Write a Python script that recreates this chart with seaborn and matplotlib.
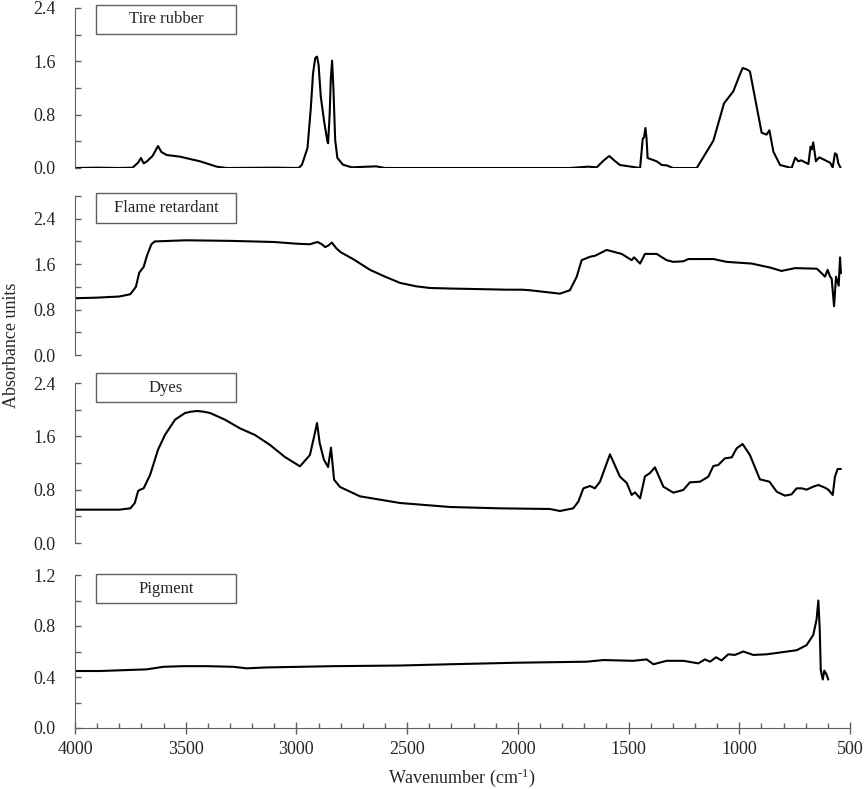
import matplotlib
matplotlib.use("Agg")
import matplotlib.pyplot as plt
import matplotlib.patches as mpatches
from matplotlib.ticker import MultipleLocator
import numpy as np
import pandas as pd
import seaborn as sns

# spectra (wavenumber cm-1, absorbance)
tire_wn = [4000, 3900, 3800, 3740, 3715, 3702, 3690, 3675, 3650, 3625, 3610, 3586, 3526, 3435,
           3360, 3315, 3100, 2990, 2975, 2950, 2935, 2925, 2915, 2907, 2900, 2890, 2875,
           2860, 2857, 2850, 2845, 2839, 2833, 2825, 2815, 2790, 2750, 2640, 2600, 1800, 1765,
           1682, 1644, 1610, 1587, 1560, 1539, 1448, 1436, 1430, 1424, 1419, 1414, 1373, 1350,
           1328, 1299, 1192, 1117, 1069, 1027, 1000, 985, 967, 952, 899, 877, 864, 846, 816, 764,
           747, 733, 721, 688, 678, 672, 666, 654, 639, 590, 578, 568, 560, 553, 542]
tire_abs = [0.0, 0.005, 0.0, 0.005, 0.08, 0.15, 0.07, 0.1, 0.18, 0.33, 0.24, 0.195, 0.17, 0.1,
            0.02, 0.0, 0.005, 0.0, 0.05, 0.3, 0.9, 1.42, 1.65, 1.67, 1.55, 1.07, 0.7,
            0.4, 0.37, 0.8, 1.32, 1.61, 1.2, 0.42, 0.15, 0.05, 0.01, 0.025, 0.0, 0.0, 0.0,
            0.02, 0.01, 0.12, 0.18, 0.1, 0.045, 0.0, 0.44, 0.46, 0.6, 0.45, 0.15, 0.1, 0.045,
            0.04, 0.0, 0.0, 0.41, 0.97, 1.15, 1.38, 1.5, 1.48, 1.45, 0.53, 0.5, 0.565, 0.245, 0.045,
            0.0, 0.155, 0.1, 0.115, 0.06, 0.32, 0.28, 0.385, 0.1, 0.16, 0.08, 0.01, 0.22, 0.2,
            0.07, 0.0]

flame_wn = [4000, 3900, 3800, 3750, 3725, 3710, 3700, 3690, 3675, 3655, 3640, 3500, 3300, 3100,
            3000, 2940, 2905, 2885, 2870, 2855, 2840, 2820, 2800, 2740, 2668, 2600, 2532, 2460,
            2397, 2300, 2171, 2050, 1980, 1945, 1877, 1810, 1765, 1734, 1712, 1674, 1650, 1599,
            1531, 1486, 1475, 1448, 1426, 1373, 1328, 1298, 1253, 1230, 1117, 1057, 944, 861,
            809, 748, 650, 628, 613, 601, 590, 583, 572, 563, 551, 545, 541]
flame_abs = [1.0, 1.01, 1.03, 1.07, 1.2, 1.45, 1.5, 1.55, 1.75, 1.95, 2.0, 2.02, 2.01, 1.99,
             1.96, 1.95, 1.99, 1.95, 1.9, 1.93, 1.98, 1.88, 1.81, 1.68, 1.5, 1.38, 1.27, 1.21,
             1.18, 1.17, 1.16, 1.15, 1.15, 1.14, 1.11, 1.08, 1.14, 1.38, 1.67, 1.73, 1.75, 1.85,
             1.78, 1.67, 1.72, 1.61, 1.78, 1.78, 1.67, 1.64, 1.65, 1.69, 1.69, 1.64, 1.61, 1.54,
             1.48, 1.53, 1.52, 1.44, 1.38, 1.5, 1.38, 1.35, 0.86, 1.38, 1.22, 1.72, 1.44]

dyes_wn = [4000, 3800, 3750, 3730, 3715, 3705, 3690, 3661, 3625, 3594, 3548, 3503, 3475, 3449,
           3420, 3390, 3323, 3255, 3187, 3119, 3052, 2984, 2939, 2920, 2907, 2895, 2876, 2857,
           2844, 2830, 2803, 2713, 2532, 2306, 2081, 1855, 1810, 1750, 1727, 1704, 1674, 1652,
           1629, 1584, 1539, 1508, 1486, 1471, 1448, 1426, 1403, 1381, 1343, 1298, 1253, 1223,
           1177, 1140, 1117, 1095, 1065, 1034, 1012, 985, 952, 907, 864, 831, 794, 764, 741, 718,
           696, 666, 643, 613, 598, 578, 568, 556, 541]
dyes_abs = [0.5, 0.5, 0.52, 0.6, 0.78, 0.8, 0.82, 1.02, 1.4, 1.62, 1.85, 1.95, 1.97, 1.98,
            1.97, 1.95, 1.85, 1.72, 1.62, 1.47, 1.29, 1.15, 1.32, 1.6, 1.8, 1.5, 1.25, 1.14,
            1.43, 0.95, 0.84, 0.7, 0.6, 0.54, 0.52, 0.51, 0.48, 0.52, 0.62, 0.82, 0.855, 0.82,
            0.92, 1.33, 0.995, 0.9, 0.72, 0.76, 0.67, 1.0, 1.05, 1.135, 0.845, 0.755, 0.795, 0.91,
            0.92, 0.995, 1.155, 1.17, 1.27, 1.285, 1.42, 1.485, 1.32, 0.955, 0.92, 0.77, 0.71,
            0.73, 0.82, 0.82, 0.8, 0.845, 0.87, 0.83, 0.8, 0.72, 0.995, 1.11, 1.11]

pigment_wn = [4000, 3887, 3676, 3601, 3511, 3405, 3285, 3225, 3134, 2984, 2833, 2532, 2306,
              2005, 1689, 1614, 1479, 1418, 1388, 1328, 1253, 1185, 1155, 1132, 1105, 1080,
              1050, 1020, 982, 937, 876, 741, 696, 666, 651, 643, 637, 632, 623, 616, 606, 598]
pigment_abs = [0.447, 0.447, 0.46, 0.48, 0.485, 0.485, 0.48, 0.468, 0.475, 0.48, 0.485, 0.49, 0.5,
               0.512, 0.52, 0.533, 0.527, 0.538, 0.5, 0.527, 0.527, 0.507, 0.538, 0.52, 0.555, 0.53,
               0.578, 0.573, 0.6, 0.573, 0.578, 0.61, 0.65, 0.73, 0.85, 1.0, 0.79, 0.455, 0.38,
               0.45, 0.42, 0.38]

names = ['Tire rubber', 'Flame retardant', 'Dyes', 'Pigment']
spectra = [(tire_wn, tire_abs), (flame_wn, flame_abs), (dyes_wn, dyes_abs), (pigment_wn, pigment_abs)]
ymax = [2.4, 2.8, 2.4, 1.2]
ymajor = [0.8, 0.8, 0.8, 0.4]

sns.set_style("ticks")
plt.rcParams['font.family'] = ['Liberation Serif', 'DejaVu Serif']
plt.rcParams['mathtext.default'] = 'regular'

W, H = 865, 789
fig = plt.figure(figsize=(W / 100, H / 100), dpi=100)
# panel extents in pixels (top, bottom)
panels_px = [(8, 168), (196, 355), (383, 543), (575, 728)]
left_px, right_px = 75, 850
box_frac = [(0.8375, 1.02), (0.828, 1.017), (0.879, 1.064), (0.815, 1.006)]
axis_col = '#606060'

for i, name in enumerate(names):
    top, bot = panels_px[i]
    ax = fig.add_axes([left_px / W, 1 - bot / H, (right_px - left_px) / W, (bot - top) / H])
    wn, ab = spectra[i]
    df = pd.DataFrame({'wn': wn, 'abs': ab})
    sns.lineplot(data=df, x='wn', y='abs', ax=ax, color='black', lw=1.5,
                 estimator=None, sort=False)
    ax.set_xlim(4000, 500)
    ax.set_ylim(0, ymax[i])
    ax.yaxis.set_minor_locator(MultipleLocator(ymajor[i] / 2))
    ticks = np.arange(0, ymax[i] + 1e-6, ymajor[i])
    ax.set_yticks(ticks)
    ax.set_yticklabels([f'{t:.1f}' for t in ticks])
    ax.set_ylabel('')
    ax.set_xlabel('')
    for s in ['top', 'right']:
        ax.spines[s].set_visible(False)
    ax.spines['left'].set_color(axis_col)
    ax.spines['bottom'].set_color(axis_col)
    ax.tick_params(axis='y', which='major', direction='in', length=4, width=1,
                   color=axis_col, labelsize=13, pad=14)
    ax.tick_params(axis='y', which='minor', direction='in', length=4, width=1, color=axis_col)
    if i < 3:
        ax.spines['bottom'].set_visible(False)
        ax.tick_params(axis='x', which='both', bottom=False, labelbottom=False)
    else:
        ax.xaxis.set_major_locator(MultipleLocator(500))
        ax.xaxis.set_minor_locator(MultipleLocator(100))
        ax.tick_params(axis='x', which='major', direction='inout', length=8, width=1,
                       color=axis_col, labelsize=13, pad=5)
        ax.tick_params(axis='x', which='minor', direction='in', length=3.5, width=1,
                       color=axis_col)
    y0, y1 = box_frac[i]
    rect = mpatches.Rectangle((0.0277, y0), 0.1794, y1 - y0, transform=ax.transAxes,
                              facecolor='white', edgecolor=axis_col, lw=1, clip_on=False,
                              zorder=5)
    ax.add_patch(rect)
    ax.text(0.0277 + 0.1794 / 2, (y0 + y1) / 2, name, transform=ax.transAxes,
            ha='center', va='center', fontsize=12, zorder=6)

fig.text(462 / W, 1 - 778 / H, 'Wavenumber (cm$^{\u2010 1}$)', ha='center', va='center',
         fontsize=13)
fig.text(12 / W, 1 - 345 / H, 'Absorbance units', ha='center', va='center',
         rotation=90, fontsize=13)

fig.savefig('out.png', dpi=100)
